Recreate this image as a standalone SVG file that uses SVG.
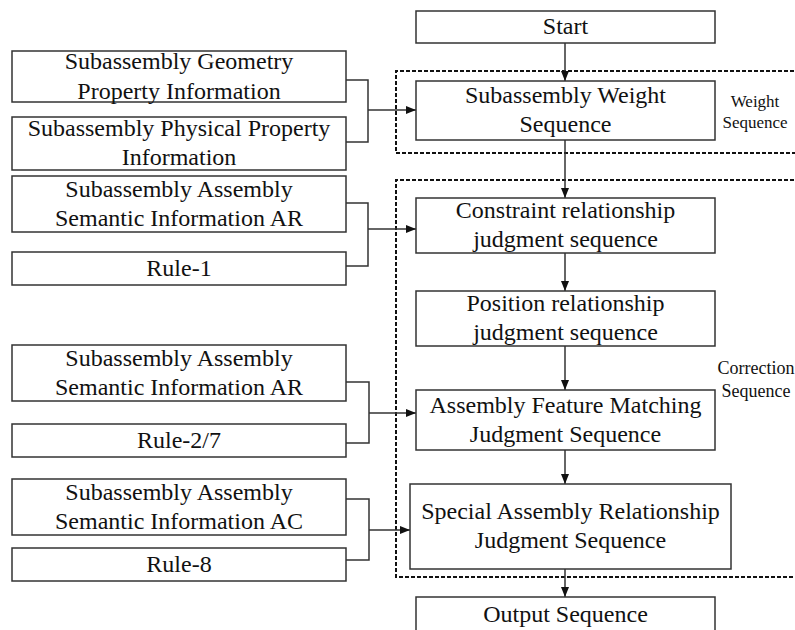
<svg xmlns="http://www.w3.org/2000/svg" width="795" height="630" viewBox="0 0 795 630">
<defs>
<style>
.box{fill:#fff;stroke:#333;stroke-width:1.5}
.t{font-family:"Liberation Serif","Times New Roman",serif;font-size:24px;fill:#111;text-anchor:middle}
.s{font-family:"Liberation Serif","Times New Roman",serif;font-size:17px;fill:#111;text-anchor:middle}
.c{font-family:"Liberation Serif","Times New Roman",serif;font-size:18px;fill:#111;text-anchor:middle}
.ln{fill:none;stroke:#333;stroke-width:1.5}
.dash{fill:none;stroke:#111;stroke-width:2;stroke-dasharray:4 2}
</style>
<marker id="ah" viewBox="0 0 10 10" refX="10" refY="5" markerWidth="10" markerHeight="10" markerUnits="userSpaceOnUse" orient="auto">
<path d="M0,1 L10,5 L0,9 Z" fill="#111"/>
</marker>
</defs>
<rect width="795" height="630" fill="#fff"/>

<g id="groups">
<path class="dash" d="M800,71 H396 V153 H800"/>
<path class="dash" d="M800,180 H396 V577 H800"/>
<text class="s" x="755" y="107">Weight</text>
<text class="s" x="755" y="128">Sequence</text>
<text class="c" x="756" y="374">Correction</text>
<text class="c" x="756" y="397">Sequence</text>
</g>

<g id="connectors">
<path class="ln" marker-end="url(#ah)" d="M565,43 V81"/>
<path class="ln" marker-end="url(#ah)" d="M565,140 V198"/>
<path class="ln" marker-end="url(#ah)" d="M565,253 V291"/>
<path class="ln" marker-end="url(#ah)" d="M565,346 V390"/>
<path class="ln" marker-end="url(#ah)" d="M565,450 V484"/>
<path class="ln" marker-end="url(#ah)" d="M565,569 V597"/>
<path class="ln" d="M346,80 H368 V142 H346"/>
<path class="ln" marker-end="url(#ah)" d="M368,110 H416"/>
<path class="ln" d="M346,203 H368 V266 H346"/>
<path class="ln" marker-end="url(#ah)" d="M368,229 H416"/>
<path class="ln" d="M346,382 H369 V443 H346"/>
<path class="ln" marker-end="url(#ah)" d="M369,413 H416"/>
<path class="ln" d="M346,499 H369 V560 H346"/>
<path class="ln" marker-end="url(#ah)" d="M369,530 H410"/>
</g>

<g id="start"><rect class="box" x="416" y="11" width="299" height="32"/><text class="t" x="565.5" y="34">Start</text></g>
<g id="weight"><rect class="box" x="416" y="81" width="299" height="59"/><text class="t" x="565.5" y="103">Subassembly Weight</text><text class="t" x="565.5" y="132">Sequence</text></g>
<g id="constraint"><rect class="box" x="416" y="198" width="299" height="55"/><text class="t" x="565.5" y="218">Constraint relationship</text><text class="t" x="565.5" y="247">judgment sequence</text></g>
<g id="position"><rect class="box" x="416" y="291" width="299" height="55"/><text class="t" x="565.5" y="311">Position relationship</text><text class="t" x="565.5" y="340">judgment sequence</text></g>
<g id="feature"><rect class="box" x="416" y="390" width="299" height="60"/><text class="t" x="565.5" y="413">Assembly Feature Matching</text><text class="t" x="565.5" y="442">Judgment Sequence</text></g>
<g id="special"><rect class="box" x="410" y="484" width="321" height="85"/><text class="t" x="570.5" y="519">Special Assembly Relationship</text><text class="t" x="570.5" y="548">Judgment Sequence</text></g>
<g id="output"><rect class="box" x="416" y="597" width="299" height="35"/><text class="t" x="565.5" y="622">Output Sequence</text></g>

<g id="geom"><rect class="box" x="12" y="51" width="334" height="51"/><text class="t" x="179" y="69">Subassembly Geometry</text><text class="t" x="179" y="99">Property Information</text></g>
<g id="phys"><rect class="box" x="12" y="117" width="334" height="53"/><text class="t" x="179" y="136">Subassembly Physical Property</text><text class="t" x="179" y="165">Information</text></g>
<g id="ar1"><rect class="box" x="12" y="176" width="334" height="56"/><text class="t" x="179" y="197">Subassembly Assembly</text><text class="t" x="179" y="226">Semantic Information AR</text></g>
<g id="rule1"><rect class="box" x="12" y="252" width="334" height="33"/><text class="t" x="179" y="276">Rule-1</text></g>
<g id="ar2"><rect class="box" x="12" y="345" width="334" height="56"/><text class="t" x="179" y="366">Subassembly Assembly</text><text class="t" x="179" y="395">Semantic Information AR</text></g>
<g id="rule27"><rect class="box" x="12" y="424" width="334" height="33"/><text class="t" x="179" y="448">Rule-2/7</text></g>
<g id="ac"><rect class="box" x="12" y="479" width="334" height="56"/><text class="t" x="179" y="500">Subassembly Assembly</text><text class="t" x="179" y="529">Semantic Information AC</text></g>
<g id="rule8"><rect class="box" x="12" y="548" width="334" height="33"/><text class="t" x="179" y="572">Rule-8</text></g>
</svg>
